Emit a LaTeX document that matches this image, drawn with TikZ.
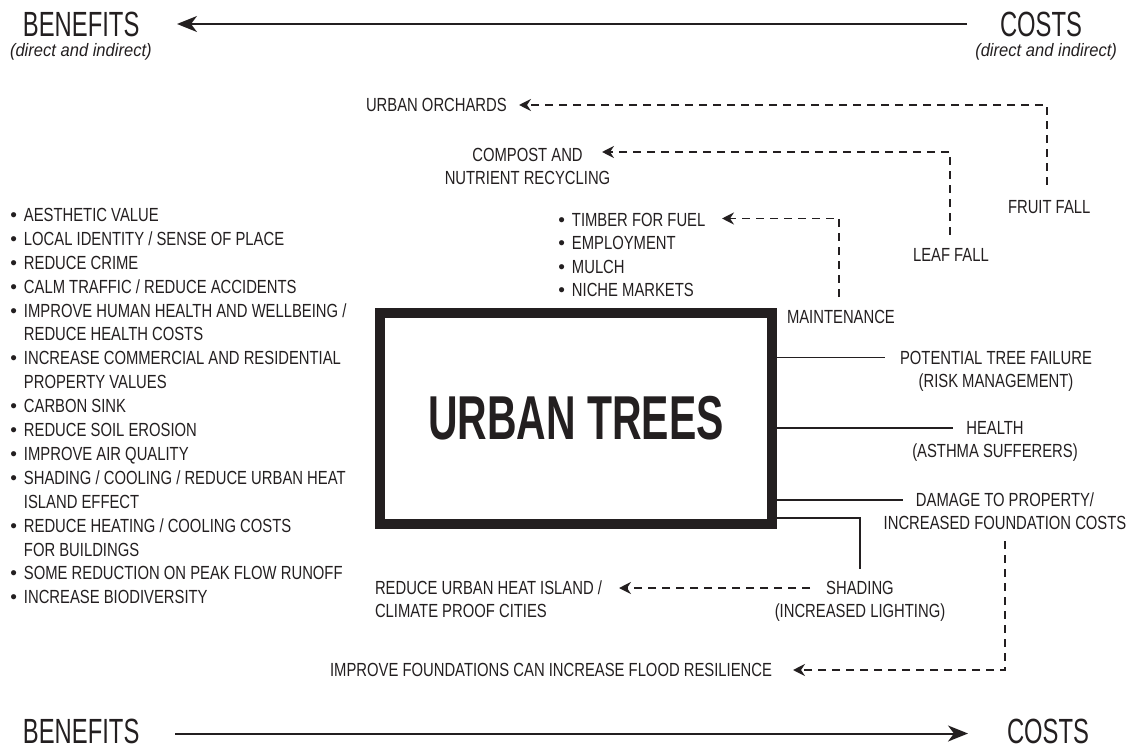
\documentclass[tikz,border=0pt]{standalone}
\usepackage{fontspec}
\setmainfont{Liberation Sans}
\newfontfamily\condf{Liberation Sans}[FakeStretch=0.78]
\newfontfamily\titlef{Liberation Sans}[FakeStretch=0.68]
\newfontfamily\subf{Liberation Sans}[FakeStretch=0.92]
\newfontfamily\heavyf{Liberation Sans}[FakeStretch=0.66]
\usetikzlibrary{arrows.meta}
\definecolor{ink}{HTML}{231F20}
\newcommand{\bu}{{\rmfamily\textbullet}}
\begin{document}
\begin{tikzpicture}[x=1pt,y=-1pt,
  every node/.style={inner sep=0pt,outer sep=0pt,text=ink},
  txt/.style={font=\condf\fontsize{19}{23.3}\selectfont},
  lst/.style={font=\condf\fontsize{19}{23.9}\selectfont},
  tlst/.style={font=\condf\fontsize{19}{23.5}\selectfont},
  ttl/.style={font=\titlef\fontsize{35}{40}\selectfont},
  sub/.style={font=\subf\itshape\fontsize{18}{20}\selectfont},
  conn/.style={draw=ink,line width=1.4pt},
  dconn/.style={draw=ink,line width=1.6pt,dash pattern=on 8pt off 6pt,-{Stealth[length=12pt,width=12pt,inset=4pt]}},
  bigarr/.style={draw=ink,line width=2pt,-{Stealth[length=20pt,width=16pt,inset=6pt]}},
  box/.style={draw=ink,line width=10pt,outer sep=5pt,minimum width=392pt,minimum height=211pt,font=\heavyf\bfseries\fontsize{62}{70}\selectfont}]
\useasboundingbox (0,0) rectangle (1132,751);

% titles
\node[ttl,anchor=base west] (benT) at (23,37) {BENEFITS};
\node[sub,anchor=base west] (benTs) at (10,57) {(direct and indirect)};
\node[ttl,anchor=base west] (costT) at (1000,37) {COSTS};
\node[sub,anchor=base east] (costTs) at (1117,57) {(direct and indirect)};
\node[ttl,anchor=base west] (benB) at (23,743.5) {BENEFITS};
\node[ttl,anchor=base west] (costB) at (1007,743.5) {COSTS};

% upper items
\node[txt,anchor=base west] (orch) at (366,111.5) {URBAN ORCHARDS};
\node[txt,anchor=base west] (fruit) at (1008,213.5) {FRUIT FALL};
\node[txt,anchor=base] (compost) at (527.5,161.5) {\begin{tabular}[t]{@{}c@{}}COMPOST AND\\NUTRIENT RECYCLING\end{tabular}};
\node[txt,anchor=base west] (leaf) at (913,261.5) {LEAF FALL};
\node[tlst,anchor=base west] (timber) at (558.3,226.5) {\begin{tabular}[t]{@{}l@{\hspace{7pt}}l@{}}\bu&TIMBER FOR FUEL\\\bu&EMPLOYMENT\\\bu&MULCH\\\bu&NICHE MARKETS\end{tabular}};
\node[txt,anchor=base west] (maint) at (787,323.5) {MAINTENANCE};

% central box
\node[box] (box) at (576,418.5) {URBAN TREES};

% costs on the right
\node[txt,anchor=base] (ptf) at (996,364.5) {\begin{tabular}[t]{@{}c@{}}POTENTIAL TREE FAILURE\\(RISK MANAGEMENT)\end{tabular}};
\node[txt,anchor=base] (health) at (995,434.5) {\begin{tabular}[t]{@{}c@{}}HEALTH\\(ASTHMA SUFFERERS)\end{tabular}};
\node[txt,anchor=base] (damage) at (1005,506.5) {\begin{tabular}[t]{@{}c@{}}DAMAGE TO PROPERTY/\\INCREASED FOUNDATION COSTS\end{tabular}};
\node[txt,anchor=base] (shading) at (860,594.5) {\begin{tabular}[t]{@{}c@{}}SHADING\\(INCREASED LIGHTING)\end{tabular}};
\node[txt,anchor=base west] (reduce) at (375,594.5) {\begin{tabular}[t]{@{}l@{}}REDUCE URBAN HEAT ISLAND /\\CLIMATE PROOF CITIES\end{tabular}};
\node[txt,anchor=base east] (flood) at (772,676.5) {IMPROVE FOUNDATIONS CAN INCREASE FLOOD RESILIENCE};

% benefits list
\node[lst,anchor=base west] (benefits) at (10.3,221.5) {\begin{tabular}[t]{@{}l@{\hspace{7pt}}l@{}}
\bu&AESTHETIC VALUE\\
\bu&LOCAL IDENTITY / SENSE OF PLACE\\
\bu&REDUCE CRIME\\
\bu&CALM TRAFFIC / REDUCE ACCIDENTS\\
\bu&IMPROVE HUMAN HEALTH AND WELLBEING /\\
&REDUCE HEALTH COSTS\\
\bu&INCREASE COMMERCIAL AND RESIDENTIAL\\
&PROPERTY VALUES\\
\bu&CARBON SINK\\
\bu&REDUCE SOIL EROSION\\
\bu&IMPROVE AIR QUALITY\\
\bu&SHADING / COOLING / REDUCE URBAN HEAT\\
&ISLAND EFFECT\\
\bu&REDUCE HEATING / COOLING COSTS\\
&FOR BUILDINGS\\
\bu&SOME REDUCTION ON PEAK FLOW RUNOFF\\
\bu&INCREASE BIODIVERSITY
\end{tabular}};

% connector end points
\coordinate (orchT) at ([shift={(153,-6.5)}]orch.base west);
\coordinate (fruitS) at ([shift={(39,-28.5)}]fruit.base west);
\coordinate (compT) at ([shift={(74.5,-9.5)}]compost.base);
\coordinate (leafS) at ([shift={(37,-26.5)}]leaf.base west);
\coordinate (timbT) at ([shift={(163.7,-8)}]timber.base west);
\coordinate (maintS) at ([shift={(52,-26.5)}]maint.base west);
\coordinate (ptfE) at ([shift={(-111,-7)}]ptf.base);
\coordinate (healthE) at ([shift={(-42,-6.5)}]health.base);
\coordinate (damE) at ([shift={(-102,-6.5)}]damage.base);
\coordinate (shS) at ([shift={(0,-11)}]box.south east);
\coordinate (shE) at ([shift={(0,-25.5)}]shading.base);
\coordinate (shL) at ([shift={(-50,-6.5)}]shading.base);
\coordinate (redT) at ([shift={(244,-6.5)}]reduce.base west);
\coordinate (damS) at ([shift={(0,34.5)}]damage.base);
\coordinate (floodT) at ([shift={(21,-6.5)}]flood.base east);
\coordinate (topS) at ([shift={(-33,-13)}]costT.base west);
\coordinate (topT) at ([shift={(154,-13)}]benT.base west);
\coordinate (botS) at ([shift={(152,-10)}]benB.base west);
\coordinate (botT) at ([shift={(-39,-10)}]costB.base west);

% connectors
\draw[bigarr] (topS) -- (topT);
\draw[bigarr] (botS) -- (botT);
\draw[dconn] (fruitS) |- (orchT);
\draw[dconn] (leafS) |- (compT);
\draw[dconn] (maintS) |- (timbT);
\draw[conn] (box.east |- ptfE) -- (ptfE);
\draw[conn] (box.east |- healthE) -- (healthE);
\draw[conn] (box.east |- damE) -- (damE);
\draw[conn] (shS) -| (shE);
\draw[dconn] (shL) -- (redT);
\draw[dconn] (damS) |- (floodT);
\end{tikzpicture}
\end{document}
